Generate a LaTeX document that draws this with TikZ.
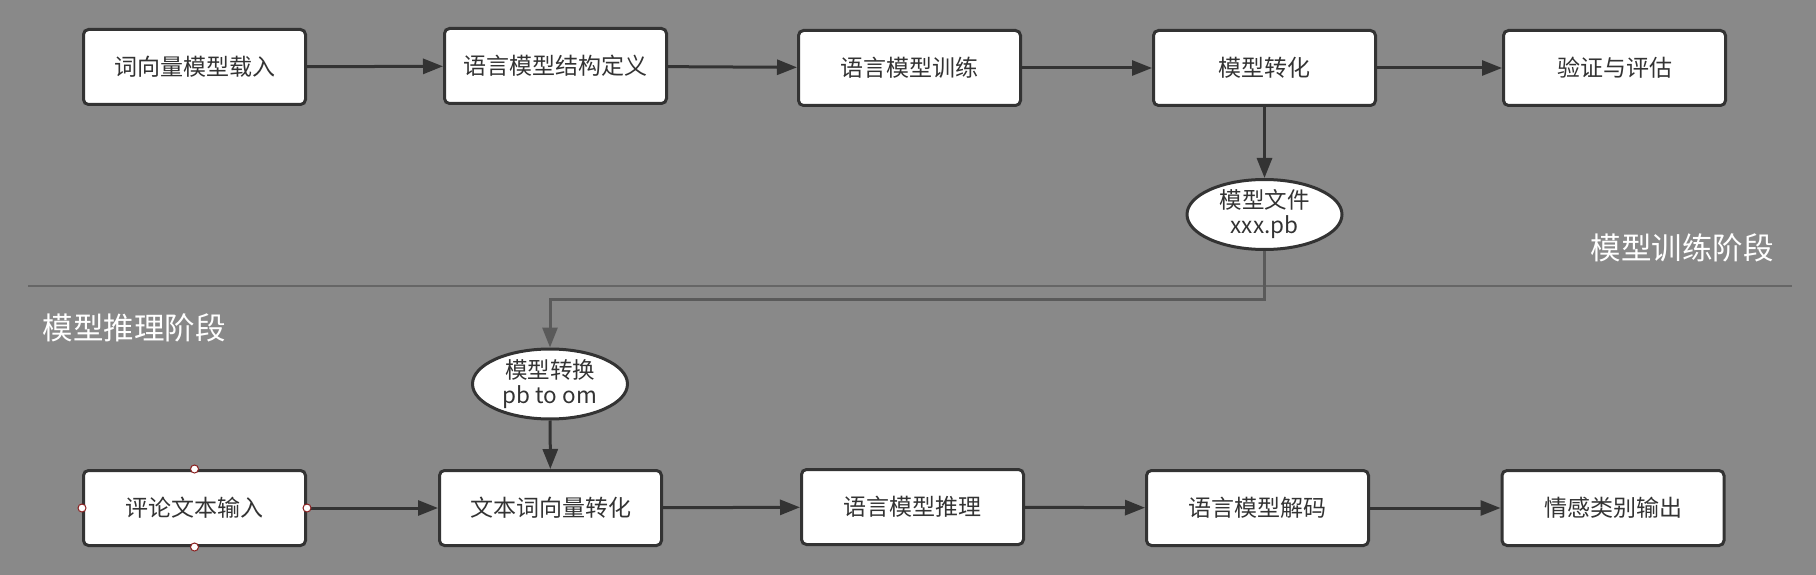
\documentclass[tikz,border=0pt]{standalone}
\usepackage{fontspec}
\setmainfont{Noto Sans CJK SC}
\usetikzlibrary{shapes.geometric,arrows.meta}
\definecolor{bg}{HTML}{898989}
\definecolor{ink}{HTML}{333333}
\definecolor{lnk}{HTML}{5A5A5A}
\definecolor{sep}{HTML}{666666}
\definecolor{handle}{HTML}{8B2020}
\tikzset{
  stepbox/.style={draw=ink, fill=white, line width=3pt, rounded corners=5pt,
    minimum width=222pt, minimum height=75pt, inner sep=0pt, text=ink,
    font=\fontsize{23}{27}\selectfont},
  fileoval/.style={ellipse, draw=ink, fill=white, line width=3pt,
    minimum width=155pt, minimum height=70pt, inner sep=0pt, text=ink, align=center,
    font=\fontsize{22.5}{25}\selectfont},
  flow/.style={draw=ink, line width=3pt, -{Triangle[length=20pt,width=15pt]}},
  flowgray/.style={draw=lnk, line width=3pt, -{Triangle[length=20pt,width=15pt]}},
  phase/.style={text=white, font=\fontsize{30.5}{36}\selectfont, inner sep=0pt},
  hdl/.style={draw=handle, fill=white, line width=1pt}
}
\begin{document}
\begin{tikzpicture}[x=1pt,y=-1pt]
\fill[bg] (0,0) rectangle (1816,575);
\useasboundingbox (0,0) rectangle (1816,575);

% top row
\node[stepbox] (a1) at (194.5,67) {词向量模型载入};
\node[stepbox] (a2) at (555.5,66) {语言模型结构定义};
\node[stepbox] (a3) at (909.5,68) {语言模型训练};
\node[stepbox] (a4) at (1264.5,68) {模型转化};
\node[stepbox] (a5) at (1614.5,68) {验证与评估};

\node[fileoval] (e1) at (1264.5,214.5) {模型文件\\xxx.pb};

\node[phase] (p1) at (1682,248) {模型训练阶段};
\node[phase] (p2) at (134,328) {模型推理阶段};

\draw[sep, line width=2pt] (28,286) -- (1792,286);

\node[fileoval] (e2) at (550,384) {模型转换\\pb to om};

% bottom row
\node[stepbox] (b1) at (194.5,508) {评论文本输入};
\node[stepbox] (b2) at (550.5,508) {文本词向量转化};
\node[stepbox] (b3) at (912.5,507) {语言模型推理};
\node[stepbox] (b4) at (1257.5,508) {语言模型解码};
\node[stepbox] (b5) at (1613,508) {情感类别输出};

% connectors
\draw[flow] (a1) -- (a2);
\draw[flow] (a2) -- (a3);
\draw[flow] (a3) -- (a4);
\draw[flow] (a4) -- (a5);
\draw[flow] (a4) -- (e1);

\coordinate (bend) at (0,299);
\draw[flowgray, rounded corners=0pt] (e1.south) -- (e1.south |- bend) -| (e2.north);

\draw[flow] (e2) -- (b2);
\draw[flow] (b1) -- (b2);
\draw[flow] (b2) -- (b3);
\draw[flow] (b3) -- (b4);
\draw[flow] (b4) -- (b5);

% selection handles
\draw[hdl] (b1.north) circle (4pt);
\draw[hdl] (b1.south) circle (4pt);
\draw[hdl] (b1.west) circle (4pt);
\draw[hdl] (b1.east) circle (4pt);
\end{tikzpicture}
\end{document}
